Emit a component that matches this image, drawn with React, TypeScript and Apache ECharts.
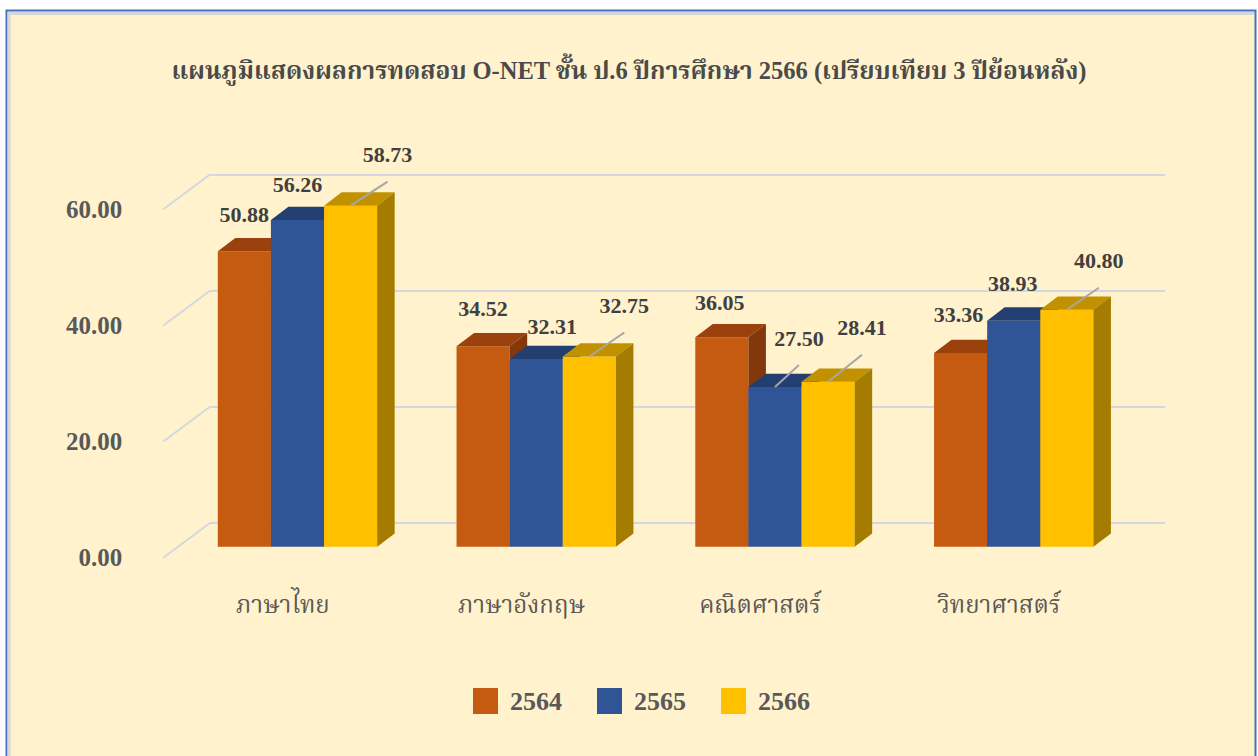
import React, { useEffect, useRef } from "react";
import * as echarts from "echarts";

const categories = ["ภาษาไทย", "ภาษาอังกฤษ", "คณิตศาสตร์", "วิทยาศาสตร์"];
const years = ["2564", "2565", "2566"];
const scores2564 = [50.88, 34.52, 36.05, 33.36];
const scores2565 = [56.26, 32.31, 27.5, 38.93];
const scores2566 = [58.73, 32.75, 28.41, 40.8];
const yTicks = [0, 20, 40, 60];
const titleText = "แผนภูมิแสดงผลการทดสอบ O-NET ชั้น ป.6 ปีการศึกษา 2566 (เปรียบเทียบ 3 ปีย้อนหลัง)";

// label placement relative to each bar's front-top centre (layout only)
const labelOffsets = [
  [[0, -37], [0, -38], [-2, -35], [-2, -38]],
  [[0, -36], [16, -33], [24, -49], [-1, -37]],
  [[37, -51], [35, -51], [34, -54], [32, -49]],
];
const leaderLines = [
  [false, false, false, false],
  [false, false, true, false],
  [true, true, true, true],
];

const frontColors = ["#C55A11", "#2F5597", "#FFC000"];
const topColors = ["#9B410D", "#233F72", "#C29100"];
const sideColors = ["#82380B", "#1F3864", "#A47C00"];

const FONT = '"Liberation Serif", "Noto Serif Thai", "Noto Sans Thai", "Times New Roman", serif';
const BAR_FRAC = 0.2225;
const DEPTH_DX = 17.5;
const DEPTH_DY = -13.3;
const WALL_DX = 47;
const WALL_DY = -35;

export default function App() {
  const ref = useRef<HTMLDivElement>(null);

  useEffect(() => {
    if (!ref.current) return;
    const chart = echarts.init(ref.current, null, { renderer: "svg" });
    const allScores = [scores2564, scores2565, scores2566];

    const barSeries = years.map((yr, k) => ({
      type: "custom",
      name: yr,
      xAxisIndex: 2,
      yAxisIndex: 2,
      z: 3,
      itemStyle: { color: frontColors[k] },
      encode: { x: 0, y: 1 },
      data: allScores[k].map((v, i) => [i, v]),
      renderItem: (params: any, api: any) => {
        const ci = api.value(0);
        const v = api.value(1);
        const top = api.coord([ci, v]);
        const base = api.coord([ci, 0]);
        const band = api.size([1, 0])[0];
        const w = band * BAR_FRAC;
        const x0 = top[0] + (k - 1.5) * w;
        const x1 = x0 + w;
        const yt = top[1];
        const yb = base[1];
        const children: any[] = [
          {
            type: "polygon",
            shape: { points: [[x0, yt], [x1, yt], [x1, yb], [x0, yb]] },
            style: { fill: frontColors[k] },
          },
          {
            type: "polygon",
            shape: {
              points: [
                [x0, yt],
                [x1, yt],
                [x1 + DEPTH_DX, yt + DEPTH_DY],
                [x0 + DEPTH_DX, yt + DEPTH_DY],
              ],
            },
            style: { fill: topColors[k] },
          },
          {
            type: "polygon",
            shape: {
              points: [
                [x1, yt],
                [x1 + DEPTH_DX, yt + DEPTH_DY],
                [x1 + DEPTH_DX, yb + DEPTH_DY],
                [x1, yb],
              ],
            },
            style: { fill: sideColors[k] },
          },
        ];
        const cx = (x0 + x1) / 2;
        const off = labelOffsets[k][ci];
        const lx = cx + off[0];
        const ly = yt + off[1];
        if (leaderLines[k][ci]) {
          children.push({
            type: "line",
            z2: 90,
            shape: { x1: cx, y1: yt, x2: lx, y2: ly + 27 },
            style: { stroke: "#A6A6A6", lineWidth: 2 },
          });
        }
        children.push({
          type: "text",
          z2: 100,
          x: lx,
          y: ly,
          style: {
            text: v.toFixed(2),
            fill: "#404040",
            fontFamily: FONT,
            fontSize: 22,
            fontWeight: "bold",
            align: "center",
            verticalAlign: "middle",
          },
        });
        return { type: "group", children };
      },
    }));

    const option: any = {
      animation: false,
      backgroundColor: "#FFFFFF",
      graphic: [
        {
          type: "rect",
          z: -10,
          shape: { x: 6.5, y: 10.5, width: 1249, height: 800 },
          style: { fill: "#FFF2CC", stroke: "#4472C4", lineWidth: 2 },
        },
        {
          type: "polyline",
          z: -9,
          shape: { points: [[9, 760], [9, 13.5], [1254, 13.5]] },
          style: { stroke: "#D6D6D6", lineWidth: 3, fill: null },
        },
      ],
      title: {
        text: titleText,
        left: "center",
        top: 53,
        textStyle: {
          fontFamily: FONT,
          fontSize: 24.5,
          fontWeight: "bold",
          color: "#4A4A4A",
        },
      },
      legend: {
        data: years,
        left: 468,
        top: 683,
        itemWidth: 25,
        itemHeight: 26,
        itemGap: 35,
        icon: "rect",
        selectedMode: false,
        textStyle: {
          fontFamily: FONT,
          fontSize: 26,
          fontWeight: "bold",
          color: "#595959",
          padding: [0, 0, 0, 7],
        },
      },
      grid: [
        { left: 163.3, right: 139.7, top: 209.3, bottom: 198.3, containLabel: false, outerBoundsMode: "none" },
        { left: 210.3, right: 92.7, top: 174.3, bottom: 233.3, containLabel: false, outerBoundsMode: "none" },
        { left: 178.1, right: 124.9, top: 198.3, bottom: 209.3, containLabel: false, outerBoundsMode: "none" },
      ],
      xAxis: [
        {
          type: "category",
          gridIndex: 0,
          data: categories,
          axisLine: { show: false },
          axisTick: { show: false },
          splitLine: { show: false },
          axisLabel: {
            margin: 35,
            fontFamily: FONT,
            fontSize: 24,
            color: "#595959",
            interval: 0,
          },
        },
        {
          type: "category",
          gridIndex: 1,
          data: categories,
          show: false,
        },
        {
          type: "category",
          gridIndex: 2,
          data: categories,
          show: false,
        },
      ],
      yAxis: [
        {
          type: "value",
          gridIndex: 0,
          min: 0,
          max: 60,
          interval: 20,
          axisLine: { show: false },
          axisTick: { show: false },
          splitLine: { show: false },
          axisLabel: {
            margin: 41,
            fontFamily: FONT,
            fontSize: 25,
            fontWeight: "bold",
            color: "#595959",
            padding: [5, 0, 0, 0],
            formatter: (val: number) => val.toFixed(2),
          },
        },
        {
          type: "value",
          gridIndex: 1,
          min: 0,
          max: 60,
          interval: 20,
          axisLine: { show: false },
          axisTick: { show: false },
          axisLabel: { show: false },
          splitLine: { show: true, lineStyle: { color: "#D3D8E0", width: 2 } },
        },
        {
          type: "value",
          gridIndex: 2,
          min: 0,
          max: 60,
          interval: 20,
          show: false,
          splitLine: { show: false },
        },
      ],
      series: [
        {
          type: "custom",
          name: "wall",
          xAxisIndex: 0,
          yAxisIndex: 0,
          z: 1,
          silent: true,
          data: yTicks.map((t) => [0, t]),
          encode: { x: 0, y: 1 },
          renderItem: (params: any, api: any) => {
            const p = api.coord([0, api.value(1)]);
            const band = api.size([1, 0])[0];
            const left = p[0] - band / 2;
            return {
              type: "line",
              shape: { x1: left, y1: p[1], x2: left + WALL_DX, y2: p[1] + WALL_DY },
              style: { stroke: "#D3D8E0", lineWidth: 2 },
            };
          },
        },
        ...barSeries,
      ],
    };

    chart.setOption(option);
    return () => chart.dispose();
  }, []);

  return (
    <div
      ref={ref}
      style={{ position: "fixed", left: 0, top: 0, width: 1258, height: 756 }}
    />
  );
}
